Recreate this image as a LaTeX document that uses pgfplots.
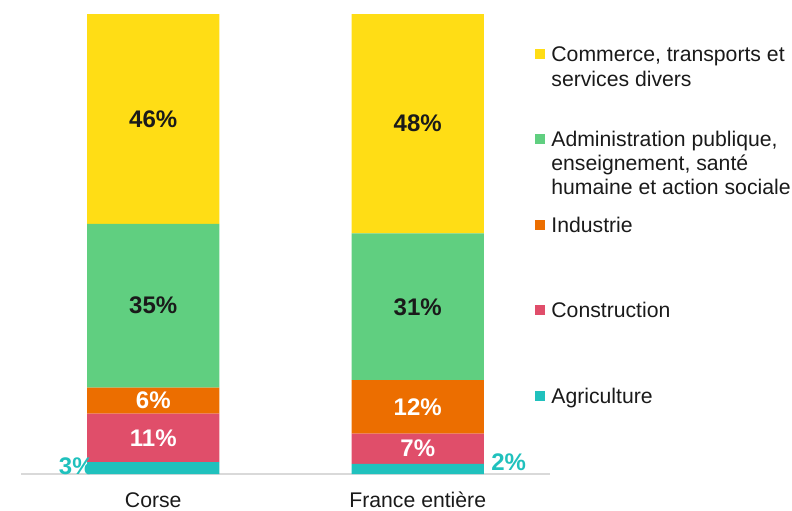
\documentclass[border=0pt]{standalone}
\usepackage{pgfplots}
\pgfplotsset{compat=1.18}
\usepackage{fontspec}
\setmainfont{Liberation Sans}
\definecolor{cyel}{RGB}{255,221,21}
\definecolor{cgreen}{RGB}{96,207,128}
\definecolor{corange}{RGB}{236,110,0}
\definecolor{cpink}{RGB}{224,78,106}
\definecolor{cteal}{RGB}{32,193,189}
\definecolor{linegray}{RGB}{217,217,217}
\definecolor{txt}{RGB}{26,26,26}

\begin{document}
\begin{tikzpicture}
\useasboundingbox (-10.5pt,-18pt) rectangle (385.5pt,237pt);
\begin{axis}[
  scale only axis, width=264.5pt, height=230pt,
  at={(0pt,0pt)}, anchor=south west,
  xmin=-0.5, xmax=1.5, ymin=0, ymax=100,
  ybar stacked, bar width=0.5,
  axis y line=none, axis x line*=bottom,
  x axis line style={draw=linegray, line width=0.9pt, -},
  xtick={0,1}, xticklabels={Corse, France entière},
  major tick length=0pt,
  xticklabel style={font=\fontsize{10.6}{12}\selectfont, text=txt, anchor=north,
    inner sep=0pt, text height=7.6pt, text depth=2pt, yshift=-9pt},
  clip=false,
]
% Agriculture, Construction, Industrie, Administration, Commerce
\addplot[fill=cteal, draw=none] coordinates {(0,2.6) (1,2.2)};
\addplot[fill=cpink, draw=none] coordinates {(0,10.5) (1,6.6)};
\addplot[fill=corange, draw=none] coordinates {(0,5.7) (1,11.6)};
\addplot[fill=cgreen, draw=none] coordinates {(0,35.6) (1,31.9)};
\addplot[fill=cyel, draw=none] coordinates {(0,45.6) (1,47.7)};

\coordinate (a5) at (axis cs:0,77.2);
\coordinate (a4) at (axis cs:0,36.6);
\coordinate (a3) at (axis cs:0,15.95);
\coordinate (a2) at (axis cs:0,7.85);
\coordinate (a1) at (axis cs:-0.291,1.7);
\coordinate (b5) at (axis cs:1,76.15);
\coordinate (b4) at (axis cs:1,36.35);
\coordinate (b3) at (axis cs:1,14.6);
\coordinate (b2) at (axis cs:1,5.5);
\coordinate (b1) at (axis cs:1.344,2.6);
\end{axis}

% value labels
\tikzset{lbl/.style={font=\fontsize{12}{14}\selectfont\bfseries, anchor=center, inner sep=0pt}}
\node[lbl, text=txt] at (a5) {46\%};
\node[lbl, text=txt] at (a4) {35\%};
\node[lbl, text=white] at (a3) {6\%};
\node[lbl, text=white] at (a2) {11\%};
\node[lbl, text=cteal] at (a1) {3\%};
\node[lbl, text=txt] at (b5) {48\%};
\node[lbl, text=txt] at (b4) {31\%};
\node[lbl, text=white] at (b3) {12\%};
\node[lbl, text=white] at (b2) {7\%};
\node[lbl, text=cteal] at (b1) {2\%};

% legend
\tikzset{leg/.style={anchor=base west, inner sep=0pt, text=txt, font=\fontsize{10.6}{12}\selectfont}}
\fill[cyel] (257pt,207.5pt) rectangle ++(5pt,5pt);
\node[leg] at (265pt,206.5pt) {Commerce, transports et};
\node[leg] at (265pt,194pt) {services divers};
\fill[cgreen] (257pt,165pt) rectangle ++(5pt,5pt);
\node[leg] at (265pt,164pt) {Administration publique,};
\node[leg] at (265pt,152pt) {enseignement, santé};
\node[leg] at (265pt,140pt) {humaine et action sociale};
\fill[corange] (257pt,122pt) rectangle ++(5pt,5pt);
\node[leg] at (265pt,121pt) {Industrie};
\fill[cpink] (257pt,79.5pt) rectangle ++(5pt,5pt);
\node[leg] at (265pt,78.5pt) {Construction};
\fill[cteal] (257pt,36.5pt) rectangle ++(5pt,5pt);
\node[leg] at (265pt,35.5pt) {Agriculture};
\end{tikzpicture}
\end{document}
